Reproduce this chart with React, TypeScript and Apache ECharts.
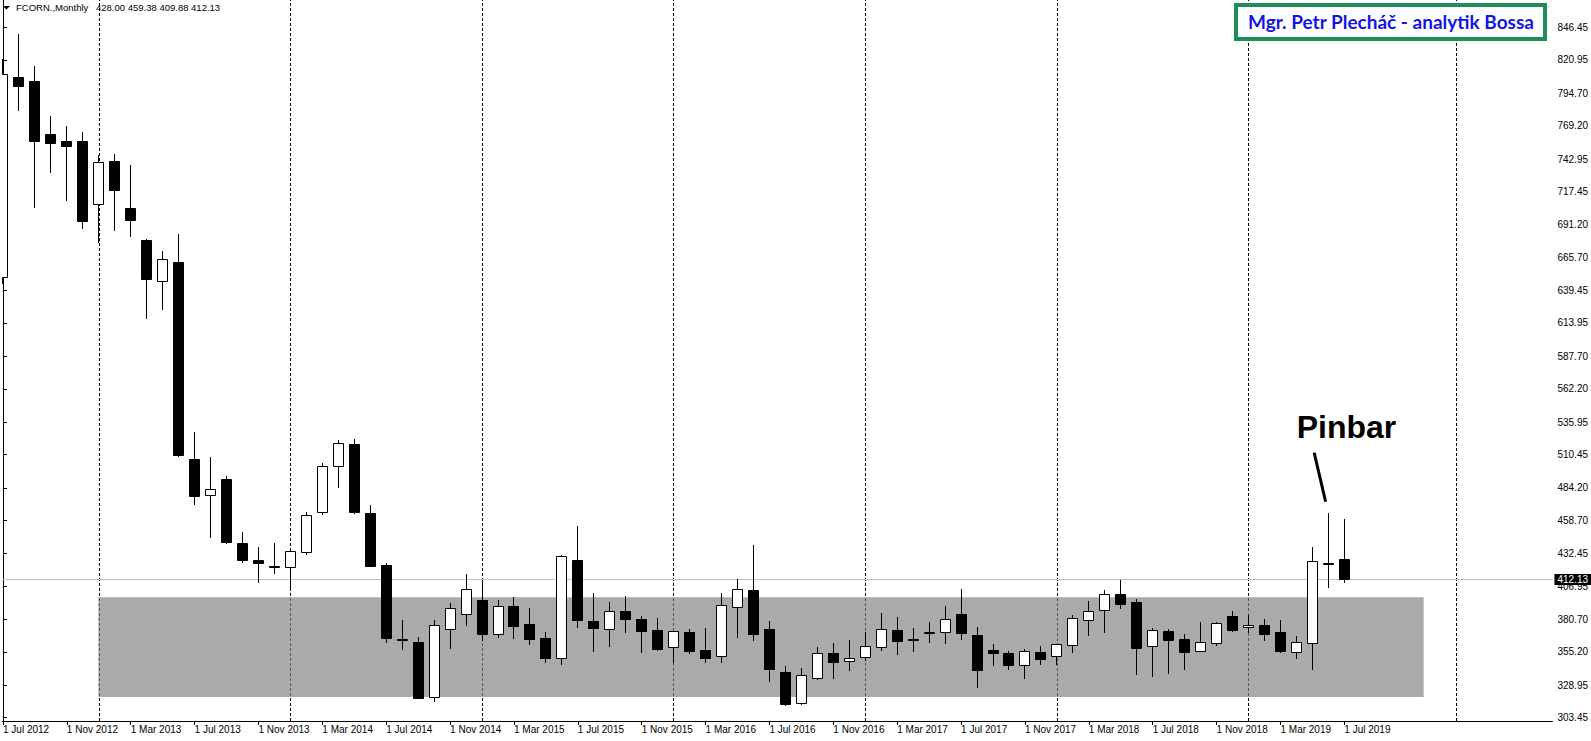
import React, { useEffect, useRef } from 'react';
import * as echarts from 'echarts';

// ---- data ----
const TICK_INDEX = [0, 4, 8, 12, 16, 20, 24, 28, 32, 36, 40, 44, 48, 52, 56, 60, 64, 68, 72, 76, 80, 84];
const TICK_LABELS = [
  '1 Jul 2012', '1 Nov 2012', '1 Mar 2013', '1 Jul 2013', '1 Nov 2013', '1 Mar 2014',
  '1 Jul 2014', '1 Nov 2014', '1 Mar 2015', '1 Jul 2015', '1 Nov 2015', '1 Mar 2016',
  '1 Jul 2016', '1 Nov 2016', '1 Mar 2017', '1 Jul 2017', '1 Nov 2017', '1 Mar 2018',
  '1 Jul 2018', '1 Nov 2018', '1 Mar 2019', '1 Jul 2019',
];
const PRICE_TICKS = [
  846.45, 820.95, 794.7, 769.2, 742.95, 717.45, 691.2, 665.7, 639.45, 613.95, 587.7,
  562.2, 535.95, 510.45, 484.2, 458.7, 432.45, 406.95, 380.7, 355.2, 328.95, 303.45,
];
// monthly candles Jul 2012 .. Jul 2019 : [open, high, low, close]
const OHLC: number[][] = [
  [650.0, 821.0, 645.0, 809.5],
  [806.75, 841.25, 781.0, 800.25],
  [804.0, 815.75, 705.0, 757.0],
  [762.25, 776.5, 732.25, 755.5],
  [756.75, 768.5, 710.25, 753.0],
  [756.75, 763.5, 688.25, 694.0],
  [707.0, 745.75, 677.5, 740.0],
  [740.75, 746.5, 687.0, 718.5],
  [703.75, 737.75, 682.25, 694.75],
  [678.75, 679.5, 617.75, 648.25],
  [646.75, 670.25, 624.75, 663.75],
  [661.25, 683.5, 509.0, 509.75],
  [506.5, 527.75, 471.0, 477.75],
  [478.0, 508.0, 445.5, 482.75],
  [490.75, 493.25, 440.25, 441.5],
  [440.5, 449.25, 425.75, 427.25],
  [427.0, 437.0, 410.0, 424.5],
  [422.25, 440.5, 417.0, 422.0],
  [421.25, 434.5, 403.5, 434.25],
  [433.0, 464.5, 432.0, 462.5],
  [465.0, 503.25, 463.5, 500.75],
  [500.75, 521.5, 484.75, 519.0],
  [518.25, 522.25, 464.0, 464.5],
  [464.0, 470.25, 422.0, 422.5],
  [423.0, 424.75, 362.75, 366.0],
  [365.0, 380.0, 357.25, 364.75],
  [362.5, 366.75, 318.5, 318.75],
  [319.5, 379.5, 316.5, 375.75],
  [373.0, 393.0, 358.0, 389.0],
  [384.75, 416.0, 376.25, 404.0],
  [395.25, 410.25, 364.0, 369.0],
  [368.5, 395.5, 366.75, 390.5],
  [391.0, 398.0, 366.0, 375.5],
  [376.75, 389.25, 361.25, 365.0],
  [365.5, 370.5, 347.0, 350.25],
  [349.75, 431.0, 345.5, 430.0],
  [427.0, 453.75, 374.5, 380.0],
  [378.75, 401.0, 355.75, 373.75],
  [373.0, 393.75, 359.5, 386.75],
  [387.0, 398.75, 370.5, 381.0],
  [380.5, 383.25, 354.75, 371.5],
  [372.0, 381.5, 356.0, 357.25],
  [358.5, 371.5, 347.0, 371.0],
  [370.5, 372.75, 354.0, 355.75],
  [356.25, 373.75, 346.5, 350.25],
  [351.25, 401.0, 346.5, 391.5],
  [389.75, 412.25, 366.75, 404.0],
  [403.25, 439.0, 364.0, 369.0],
  [372.5, 378.75, 332.0, 341.5],
  [338.75, 343.75, 313.25, 314.0],
  [314.25, 342.0, 314.0, 336.5],
  [334.5, 358.5, 333.5, 353.75],
  [353.75, 361.75, 334.25, 346.5],
  [347.75, 364.0, 340.5, 349.75],
  [351.0, 370.5, 348.5, 359.25],
  [359.0, 385.5, 356.25, 372.5],
  [372.0, 382.25, 353.5, 363.5],
  [365.0, 373.5, 355.75, 364.75],
  [370.25, 378.25, 362.75, 370.5],
  [370.25, 391.0, 362.0, 380.5],
  [384.5, 404.5, 365.25, 370.0],
  [368.0, 374.0, 327.5, 340.75],
  [356.25, 361.0, 344.75, 354.25],
  [354.0, 355.5, 341.25, 344.75],
  [344.25, 356.75, 334.5, 355.25],
  [354.5, 359.5, 345.5, 349.5],
  [351.25, 361.0, 345.0, 360.75],
  [360.0, 383.75, 354.75, 381.25],
  [380.0, 394.75, 368.0, 386.75],
  [388.0, 403.5, 370.5, 400.0],
  [400.0, 411.25, 389.5, 392.5],
  [394.0, 396.25, 337.5, 358.0],
  [359.5, 373.25, 335.75, 371.75],
  [371.0, 372.5, 338.25, 364.0],
  [365.0, 369.0, 341.25, 355.0],
  [355.75, 378.25, 355.5, 362.25],
  [362.0, 378.0, 360.25, 377.25],
  [383.0, 386.75, 371.25, 372.0],
  [374.0, 383.75, 370.25, 375.75],
  [375.75, 380.5, 364.5, 369.0],
  [370.5, 380.0, 355.0, 355.75],
  [355.0, 367.25, 350.25, 362.25],
  [361.5, 437.25, 341.5, 426.25],
  [424.75, 464.0, 405.75, 424.5],
  [428.0, 459.38, 409.88, 412.13],
];
const YEAR_LINES = [6, 18, 30, 42, 54, 66, 78, 91];
const LAST_PRICE = 412.13;
const ZONE_FROM = 5.97;
const ZONE_TO = 88.97;
const ZONE_TOP = 398.25;
const ZONE_BOTTOM = 319.75;
const PIN_FROM = [82.11, 511.9];
const PIN_TO = [82.83, 473.3];

// axis extents (16 px per month, 1.271 px per price unit)
const X_MIN = -0.03125;
const X_MAX = 97.03125;
const Y_MIN = 300.8;
const Y_MAX = 868.07;

const FONT = 'Liberation Sans';

export default function App() {
  const ref = useRef<HTMLDivElement>(null);

  useEffect(() => {
    if (!ref.current) return;
    const chart = echarts.init(ref.current, undefined, { renderer: 'svg' });
    const last = OHLC[OHLC.length - 1];
    const snap = (v: number) => Math.round(v - 0.5) + 0.5;

    const option: any = {
      animation: false,
      backgroundColor: '#fff',
      grid: { left: 0, right: 38, top: 0, bottom: 20 },
      xAxis: {
        type: 'value',
        min: X_MIN,
        max: X_MAX,
        position: 'bottom',
        z: 0,
        axisLine: { show: true, lineStyle: { color: '#000', width: 1 } },
        axisTick: { show: true, length: 4, customValues: TICK_INDEX, lineStyle: { color: '#000' } },
        axisLabel: {
          show: true,
          customValues: TICK_INDEX,
          align: 'left',
          margin: 3,
          color: '#000',
          fontSize: 10,
          fontFamily: FONT,
          formatter: (v: number) => {
            const k = TICK_INDEX.indexOf(Math.round(v));
            return k >= 0 ? TICK_LABELS[k] : '';
          },
        },
        splitLine: { show: false },
      },
      yAxis: {
        type: 'value',
        min: Y_MIN,
        max: Y_MAX,
        position: 'right',
        z: 0,
        axisLine: { show: true, lineStyle: { color: '#000', width: 1 } },
        axisTick: { show: true, length: 4, customValues: PRICE_TICKS, lineStyle: { color: '#000' } },
        axisLabel: {
          show: true,
          customValues: PRICE_TICKS,
          margin: 5,
          color: '#000',
          fontSize: 10,
          fontFamily: FONT,
          formatter: (v: number) => v.toFixed(2),
        },
        splitLine: { show: false },
      },
      series: [
        {
          type: 'line',
          data: [],
          z: 1,
          silent: true,
          markLine: {
            z: 1,
            silent: true,
            symbol: ['none', 'none'],
            label: { show: false },
            data: [
              ...YEAR_LINES.map((v) => ({
                xAxis: v,
                lineStyle: { color: '#000', width: 1, type: [3, 2] },
                label: { show: false },
              })),
              {
                yAxis: LAST_PRICE,
                lineStyle: { color: '#C0C0C0', width: 1, type: 'solid' },
                label: {
                  show: true,
                  position: 'end',
                  distance: 2,
                  formatter: LAST_PRICE.toFixed(2),
                  color: '#fff',
                  backgroundColor: '#000',
                  padding: [1, 3, 0, 3],
                  fontSize: 10,
                  lineHeight: 10,
                  fontFamily: FONT,
                },
              },
            ],
          },
        },
        {
          type: 'line',
          data: [],
          z: 2,
          silent: true,
          markArea: {
            z: 2,
            silent: true,
            itemStyle: { color: 'rgba(128,128,128,0.667)' },
            data: [[{ xAxis: ZONE_FROM, yAxis: ZONE_TOP }, { xAxis: ZONE_TO, yAxis: ZONE_BOTTOM }]],
          },
        },
        {
          type: 'custom',
          z: 3,
          clip: true,
          silent: true,
          data: OHLC.map((d, i) => [i, d[0], d[1], d[2], d[3]]),
          encode: { x: 0, y: [1, 2, 3, 4] },
          renderItem: (params: any, api: any) => {
            const i = api.value(0);
            const o = api.value(1);
            const h = api.value(2);
            const l = api.value(3);
            const c = api.value(4);
            const p0 = api.coord([i, o]);
            const cx = snap(p0[0]);
            const yo = p0[1];
            const yc = api.coord([i, c])[1];
            const yh = api.coord([i, h])[1];
            const yl = api.coord([i, l])[1];
            const top = snap(Math.min(yo, yc));
            const bot = snap(Math.max(yo, yc));
            const bull = c > o;
            return {
              type: 'group',
              children: [
                {
                  type: 'line',
                  shape: { x1: cx, y1: snap(yh) - 0.5, x2: cx, y2: snap(yl) + 0.5 },
                  style: { stroke: '#000', lineWidth: 1 },
                },
                {
                  type: 'rect',
                  shape: { x: cx - 5, y: top, width: 10, height: Math.max(bot - top, 1) },
                  style: { fill: bull ? '#fff' : '#000', stroke: '#000', lineWidth: 1 },
                },
              ],
            };
          },
        },
        {
          type: 'line',
          data: [],
          z: 4,
          silent: true,
          markLine: {
            z: 4,
            silent: true,
            symbol: ['none', 'none'],
            label: { show: false },
            lineStyle: { color: '#000', width: 3, type: 'solid' },
            data: [[{ coord: PIN_FROM }, { coord: PIN_TO }]],
          },
        },
      ],
      graphic: [
        {
          type: 'polygon',
          z: 100,
          shape: { points: [[3, 6], [10, 6], [6.5, 9.5]] },
          style: { fill: '#000' },
        },
        {
          type: 'text',
          z: 100,
          x: 16,
          y: 7,
          style: {
            text: 'FCORN.,Monthly',
            fill: '#000',
            fontSize: 9.5,
            fontFamily: FONT,
            align: 'left',
            verticalAlign: 'middle',
          },
        },
        {
          type: 'text',
          z: 100,
          x: 96,
          y: 7,
          style: {
            text: last.map((v) => v.toFixed(2)).join(' '),
            fill: '#000',
            fontSize: 9.5,
            fontFamily: FONT,
            align: 'left',
            verticalAlign: 'middle',
          },
        },
        {
          type: 'rect',
          z: 100,
          shape: { x: 1236, y: 5, width: 309, height: 34 },
          style: { fill: '#fff', stroke: '#228B5A', lineWidth: 4 },
        },
        {
          type: 'text',
          z: 101,
          x: 1391,
          y: 21.5,
          style: {
            text: 'Mgr. Petr Plecháč - analytik Bossa',
            fill: '#1414E6',
            fontSize: 19,
            fontWeight: 'bold',
            fontFamily: 'Lato',
            align: 'center',
            verticalAlign: 'middle',
          },
        },
        {
          type: 'text',
          z: 100,
          x: 1346.5,
          y: 427.4,
          style: {
            text: 'Pinbar',
            fill: '#000',
            fontSize: 32,
            fontWeight: 'bold',
            fontFamily: FONT,
            align: 'center',
            verticalAlign: 'middle',
          },
        },
      ],
    };

    chart.setOption(option);
    return () => chart.dispose();
  }, []);

  return (
    <div
      ref={ref}
      style={{ position: 'fixed', left: 0, top: 0, width: 1591, height: 741, background: '#fff' }}
    />
  );
}
